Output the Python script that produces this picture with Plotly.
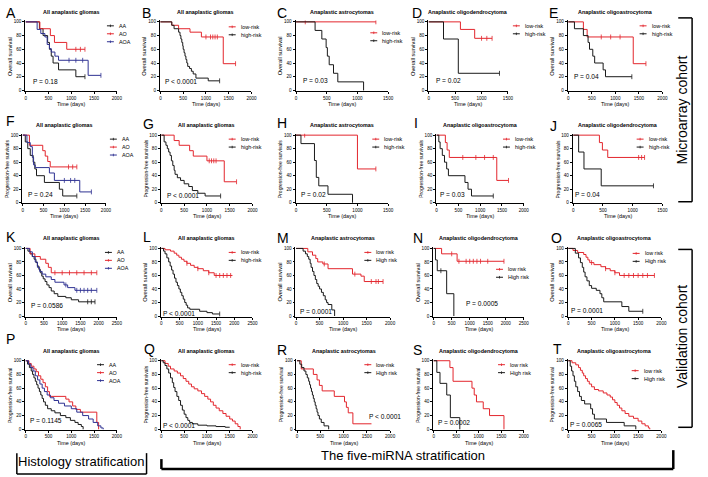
import plotly.graph_objects as go

# ---------------- data: (time in days, survival %) step points ----------------
# Row 1 - microarray cohort, overall survival
A_AA = [(0,100),(300,90),(380,80),(480,70),(520,60),(560,50),(600,40),(720,30),(1100,20),(1300,20)]
A_AO = [(0,100),(310,90),(540,80),(630,70),(900,60),(1300,60)]
A_AOA = [(0,100),(250,89),(330,83),(420,78),(470,67),(520,61),(560,56),(640,50),(720,44),(1370,22),(1650,22)]
B_low = [(0,100),(250,95),(400,90),(650,85),(900,78),(1380,39),(1650,39)]
B_high = [(0,100),(250,95),(300,90),(400,85),(430,80),(450,75),(470,70),(490,65),(500,60),(520,55),(540,50),
          (560,45),(580,40),(600,35),(640,32),(680,28),(720,24),(780,18),(1050,14),(1300,14)]
C_low = [(0,100),(1300,100)]
C_high = [(0,100),(310,87.5),(420,75),(490,62.5),(510,50),(540,37.5),(610,25),(680,12.5),(1100,0)]
D_low = [(0,100),(600,89),(870,76),(1200,76)]
D_high = [(0,100),(280,75),(560,25),(1340,25)]
E_low = [(0,100),(320,89),(400,78),(1380,39),(1650,39)]
E_high = [(0,100),(130,90),(320,80),(420,70),(450,60),(520,50),(560,40),(740,30),(790,20),(1350,20)]
# Row 2 - microarray cohort, progression-free survival
F_AA = [(0,100),(60,90),(120,80),(180,70),(250,60),(290,50),(330,40),(520,30),(880,20),(960,10),(1300,10)]
F_AO = [(0,100),(160,85),(480,77),(540,69),(600,61),(660,53),(1300,53)]
F_AOA = [(0,100),(100,89),(180,83),(230,67),(260,56),(300,52),(640,44),(760,33),(1370,16),(1650,16)]
G_low = [(0,100),(280,92),(390,85),(620,77),(700,69),(1000,62),(1380,31),(1650,31)]
G_high = [(0,100),(60,90),(100,85),(130,80),(160,75),(190,70),(220,62),(250,55),(280,48),(300,42),(350,37),
          (420,33),(500,28),(600,24),(680,18),(800,14),(960,10),(1300,10)]
H_low = [(0,100),(1000,50),(1300,50)]
H_high = [(0,100),(80,87.5),(300,62.5),(330,37.5),(370,25),(520,12.5),(920,0)]
I_low = [(0,100),(200,89),(240,78),(290,67),(1380,33),(1650,33)]
I_high = [(0,100),(50,90),(80,80),(130,70),(180,60),(230,50),(270,40),(650,30),(720,20),(800,10),(1300,10)]
J_low = [(0,100),(440,89),(490,78),(580,67),(1200,67)]
J_high = [(0,100),(90,75),(180,50),(470,25),(1350,25)]
# Row 3 - validation cohort, overall survival
K_AA = [(0,100),(60,96),(120,92),(180,88),(230,84),(280,79),(320,74),(360,69),(400,64),(440,59),(480,55),(530,51),
        (580,46),(640,42),(700,37),(780,33),(880,29),(1100,27),(1250,24),(1450,21),(1900,21)]
K_AO = [(0,100),(120,92),(250,88),(400,84),(550,78),(620,72),(700,64),(1950,64)]
K_AOA = [(0,100),(100,95),(180,88),(260,80),(320,72),(380,66),(450,62),(550,58),(700,54),(800,50),(1050,46),
         (1150,42),(1350,38),(1950,38)]
L_low = [(0,100),(100,98),(250,96),(350,93),(420,90),(480,87),(550,84),(620,81),(700,78),(800,75),(900,72),
         (1000,70),(1150,67),(1300,64),(1450,60),(1950,60)]
L_high = [(0,100),(60,96),(100,92),(150,86),(200,80),(240,74),(280,68),(320,62),(360,56),(400,50),(440,45),
          (480,40),(520,35),(560,30),(600,25),(640,20),(680,16),(720,12),(780,10),(1050,7),(1250,5),(1400,3),(1600,3)]
M_low = [(0,100),(250,95),(350,90),(420,85),(460,80),(570,77),(680,70),(1200,62),(1380,59),(1450,51),(1850,51)]
M_high = [(0,100),(150,96),(200,92),(240,88),(270,84),(300,78),(320,72),(350,66),(380,60),(410,54),(440,48),
          (470,44),(500,40),(540,35),(580,30),(620,24),(650,20),(680,17),(760,9),(820,0)]
N_low = [(0,100),(220,92),(650,81),(1950,81)]
N_high = [(0,100),(50,83),(100,67),(360,33),(560,0)]
O_low = [(0,100),(100,97),(200,94),(330,91),(380,87),(420,83),(460,79),(550,76),(700,73),(800,70),(900,67),
         (1000,64),(1100,60),(1850,60)]
O_high = [(0,100),(150,93),(220,86),(260,79),(300,72),(330,65),(360,58),(400,52),(450,45),(500,41),(600,38),
          (680,33),(720,27),(760,21),(1150,14),(1300,7),(1600,7)]
# Row 4 - validation cohort, progression-free survival
P_AA = [(0,100),(40,95),(80,90),(120,85),(150,80),(180,75),(210,70),(240,65),(270,60),(300,55),(330,50),(360,45),
        (390,40),(430,35),(480,30),(560,27),(640,24),(760,20),(880,17),(980,13),(1080,10),(1150,7),(1220,4),(1260,0)]
P_AO = [(0,100),(70,96),(120,92),(180,88),(230,84),(280,78),(330,73),(380,68),(430,62),(480,55),(520,48),(880,44),
        (950,40),(1030,34),(1100,29),(1200,25),(1560,10),(1600,0)]
P_AOA = [(0,100),(60,95),(110,90),(160,85),(210,78),(260,72),(310,66),(360,60),(410,55),(470,50),(540,46),(620,42),
         (720,38),(850,34),(1000,30),(1120,25),(1250,20),(1380,15),(1480,10),(1580,5),(1650,2),(1700,0)]
Q_low = [(0,100),(80,96),(150,92),(200,88),(280,85),(350,82),(420,78),(480,74),(540,70),(600,66),(660,62),(720,59),
         (800,56),(880,52),(950,48),(1020,44),(1080,40),(1140,35),(1200,31),(1270,27),(1350,23),(1420,19),(1500,15),
         (1560,12),(1620,8),(1680,4),(1730,0)]
Q_high = [(0,100),(40,97),(80,93),(120,88),(160,82),(200,75),(240,68),(270,61),(300,55),(340,48),(380,42),(420,35),
          (460,28),(500,22),(540,17),(580,13),(620,10),(680,8),(800,6),(1000,5),(1200,4),(1400,3),(1500,3)]
R_low = [(0,100),(90,88),(350,80),(430,72),(480,64),(540,56),(800,48),(1020,40),(1060,32),(1100,24),(1200,8),(1600,8)]
R_high = [(0,100),(60,95),(100,90),(150,85),(190,80),(220,75),(250,70),(270,65),(290,60),(310,55),(330,50),(350,45),
          (370,40),(390,35),(410,30),(430,25),(450,20),(480,15),(520,10),(580,5),(680,0)]
S_low = [(0,100),(360,90),(430,70),(850,60),(900,50),(950,40),(1100,30),(1240,20),(1560,0)]
S_high = [(0,100),(70,83),(140,67),(290,50),(370,17),(580,0)]
T_low = [(0,100),(80,97),(160,94),(220,90),(260,86),(300,82),(330,78),(370,74),(410,70),(450,66),(500,62),(560,58),
         (650,56),(750,53),(830,50),(900,47),(950,43),(1000,39),(1050,35),(1100,31),(1150,27),(1220,23),(1300,19),
         (1400,16),(1500,12),(1580,8),(1650,5),(1720,2),(1750,0)]
T_high = [(0,100),(40,92),(70,85),(100,78),(130,70),(160,62),(200,55),(240,48),(280,42),(350,37),(480,30),(520,22),
          (560,15),(820,10),(1200,5),(1450,0)]

# censored observation times
A_AA_c = [1300]; A_AO_c = [1100, 1200, 1300]; A_AOA_c = [950, 1100, 1250, 1650]
B_low_c = [1000, 1100, 1150, 1200, 1250, 1650]; B_high_c = [1300]
C_low_c = [150, 1300]; D_low_c = [1000, 1100, 1200]; D_high_c = [1340]
E_low_c = [700, 900, 1100, 1650]; E_high_c = [1350]
F_AA_c = [1300]; F_AO_c = [1100, 1200, 1300]; F_AOA_c = [1000, 1150, 1250, 1650]
G_low_c = [1050, 1100, 1150, 1200, 1650]; G_high_c = [1300]
H_low_c = [140, 1300]; I_low_c = [600, 900, 1100, 1300, 1650]; I_high_c = [1300]
J_low_c = [1100, 1150, 1200]; J_high_c = [1350]
K_AO_c = [800, 1000, 1200, 1400, 1600, 1800, 1950]; K_AOA_c = [1100, 1400, 1500, 1600, 1700, 1800, 1950]
K_AA_c = [1700, 1800, 1900]
L_low_c = [700, 1000, 1300, 1500, 1600, 1700, 1800, 1900]; L_high_c = [1600]
M_low_c = [600, 1250, 1600, 1700, 1750, 1850]
N_low_c = [500, 700, 900, 1000, 1100, 1200, 1300, 1500, 1950]; N_high_c = [200]
O_low_c = [500, 800, 1000, 1200, 1300, 1400, 1500, 1600, 1700, 1850]; O_high_c = [1600]

# ---------------- styling / layout ----------------
W, H = 708, 477
FONT = "Liberation Sans, Arial, sans-serif"
RED = "#e3262d"
BLK = "#1a1a1a"
BLU = "#2e3192"
HIST = ["AA", "AO", "AOA"]
RISK1 = ["low-risk", "high-risk"]
RISK2 = ["low risk", "High risk"]
RISK3 = ["low-risk", "High risk"]
OS = "Overall survival"
PFS1 = "Progression-free survivals"
PFS2 = "Progression-free survival"
T_ALL = "All anaplastic gliomas"
T_AST = "Anaplastic astrocytomas"
T_ODG = "Anaplastic oligodendrocytoma"
T_OAS = "Anaplastic oligoastrocytoma"

def hist(aa, ao, aoa, c=(None, None, None)):
    return [(aa, BLK, c[0]), (ao, RED, c[1]), (aoa, BLU, c[2])]

def risk(lo, hi, c=(None, None)):
    return [(lo, RED, c[0]), (hi, BLK, c[1])]

R1, R2, R3, R4 = (21, 90), (135, 203), (249, 317), (362, 431)
PANELS = [
    ("A", T_ALL, OS, 2000, (25, 117) + R1, hist(A_AA, A_AO, A_AOA, (A_AA_c, A_AO_c, A_AOA_c)), HIST, [BLK, RED, BLU], (107, 25), "P = 0.18", (30, 81), (3, 12)),
    ("B", T_ALL, OS, 2000, (161, 253) + R1, risk(B_low, B_high, (B_low_c, B_high_c)), RISK1, [RED, BLK], (230, 26), "P < 0.0001", (164, 81), (140, 12)),
    ("C", T_AST, OS, 1500, (298, 391) + R1, risk(C_low, C_high, (C_low_c, None)), RISK1, [RED, BLK], (373, 32), "P = 0.03", (303, 80), (277, 12)),
    ("D", T_ODG, OS, 1500, (432, 512) + R1, risk(D_low, D_high, (D_low_c, D_high_c)), RISK1, [RED, BLK], (517, 25), "P = 0.02", (437, 80), (413, 12)),
    ("E", T_OAS, OS, 2000, (573, 668) + R1, risk(E_low, E_high, (E_low_c, E_high_c)), RISK1, [RED, BLK], (645, 25), "P = 0.04", (577, 76), (551, 12)),
    ("F", T_ALL, PFS1, 2000, (22, 106) + R2, hist(F_AA, F_AO, F_AOA, (F_AA_c, F_AO_c, F_AOA_c)), HIST, [BLK, RED, BLU], (110, 139), "P = 0.24", (25, 195), (3, 121)),
    ("G", T_ALL, PFS1, 2000, (162, 254) + R2, risk(G_low, G_high, (G_low_c, G_high_c)), RISK1, [RED, BLK], (230, 139), "P < 0.0001", (166, 196), (141, 124)),
    ("H", T_AST, PFS1, 1500, (298, 391) + R2, risk(H_low, H_high, (H_low_c, None)), RISK1, [RED, BLK], (375, 139), "P = 0.02", (301, 195), (277, 123)),
    ("I", T_OAS, PFS1, 2000, (440, 528) + R2, risk(I_low, I_high, (I_low_c, I_high_c)), RISK1, [RED, BLK], (507, 139), "P = 0.03", (441, 195), (415, 123)),
    ("J", T_ODG, PFS1, 1500, (578, 668) + R2, risk(J_low, J_high, (J_low_c, J_high_c)), RISK1, [RED, BLK], (642, 139), "P = 0.04", (578, 195), (552, 126)),
    ("K", T_ALL, OS, 2500, (25, 117) + R3, hist(K_AA, K_AO, K_AOA, (K_AA_c, K_AO_c, K_AOA_c)), HIST, [BLK, RED, BLU], (105, 253), "P = 0.0586", (28, 306), (3, 237)),
    ("L", T_ALL, OS, 2500, (162, 254) + R3, risk(L_low, L_high, (L_low_c, L_high_c)), RISK1, [RED, BLK], (230, 253), "P < 0.0001", (162, 314), (141, 237)),
    ("M", T_AST, OS, 2000, (298, 393) + R3, risk(M_low, M_high, (M_low_c, None)), RISK2, [RED, BLK], (367, 253), "P = 0.0001", (300, 312), (277, 238)),
    ("N", T_ODG, OS, 2500, (437, 528) + R3, risk(N_low, N_high, (N_low_c, N_high_c)), RISK2, [RED, BLK], (500, 270), "P = 0.0005", (468, 304), (414, 238)),
    ("O", T_OAS, OS, 2000, (573, 667) + R3, risk(O_low, O_high, (O_low_c, O_high_c)), RISK2, [RED, BLK], (638, 254), "P = 0.0001", (574, 311), (553, 238)),
    ("P", T_ALL, PFS2, 2000, (25, 117) + R4, hist(P_AA, P_AO, P_AOA), HIST, [BLK, RED, BLU], (97, 366), "P = 0.1145", (27, 422), (3, 340)),
    ("Q", T_ALL, PFS1, 2000, (162, 254) + R4, risk(Q_low, Q_high), RISK1, [RED, BLK], (230, 366), "P < 0.0001", (162, 427), (142, 350)),
    ("R", T_AST, PFS2, 2000, (299, 393) + R4, risk(R_low, R_high), RISK3, [RED, BLK], (367, 366), "P < 0.0001", (370, 418), (277, 351)),
    ("S", T_ODG, PFS2, 2000, (437, 528) + R4, risk(S_low, S_high), RISK2, [RED, BLK], (502, 366), "P = 0.0002", (439, 424), (414, 351)),
    ("T", T_OAS, PFS2, 2000, (573, 667) + R4, risk(T_low, T_high), RISK2, [RED, BLK], (637, 372), "P = 0.0065", (573, 426), (555, 350)),
]


def px(x):
    return x / W


def py(y):
    return 1 - y / H


def surv_at(curve, t):
    s = curve[0][1]
    for ti, si in curve:
        if ti <= t:
            s = si
    return s


def note(x, y, text, size, xanchor="center", angle=0):
    return dict(x=px(x), y=py(y), text=text, showarrow=False, xanchor=xanchor, yanchor="middle",
                textangle=angle, xref="paper", yref="paper",
                font=dict(size=size, family=FONT, color="black"))


fig = go.Figure()
annots = []
shapes = []

for i, (letter, title, ylab, xmax, (x0, x1, yt, yb), curves, labels, lcols, lpos, ptext, ppos, lett) in enumerate(PANELS):
    n = i + 1
    xa = "x" if n == 1 else f"x{n}"
    ya = "y" if n == 1 else f"y{n}"
    ppx = (x1 - x0) / xmax
    ppy = (yb - yt) / 100.0
    xlo, xhi = -0.006 * xmax, xmax * 1.0
    ylo, yhi = -1.0, 102.0
    dom_x = [px(x0 + xlo * ppx), px(x1)]
    dom_y = [py(yb - ylo * ppy), py(yt - (yhi - 100) * ppy)]
    ticks = list(range(0, xmax + 1, 500))
    axis_common = dict(showline=True, linecolor="black", linewidth=0.9, ticks="outside", ticklen=2,
                       tickwidth=0.8, tickcolor="black", showgrid=False, zeroline=False,
                       tickfont=dict(size=4.6, family=FONT, color="black"), fixedrange=True)
    fig.update_layout(**{
        ("xaxis" if n == 1 else f"xaxis{n}"): dict(domain=dom_x, range=[xlo, xhi], anchor=ya,
                                                   tickvals=ticks, **axis_common),
        ("yaxis" if n == 1 else f"yaxis{n}"): dict(domain=dom_y, range=[ylo, yhi], anchor=xa,
                                                   tickvals=[0, 20, 40, 60, 80, 100], **axis_common),
    })
    for curve, col, cens in curves:
        fig.add_trace(go.Scatter(x=[p[0] for p in curve], y=[p[1] for p in curve], mode="lines",
                                 line=dict(color=col, width=1, shape="hv"), xaxis=xa, yaxis=ya,
                                 showlegend=False, hoverinfo="skip"))
        if cens:
            fig.add_trace(go.Scatter(x=cens, y=[surv_at(curve, t) for t in cens], mode="markers",
                                     marker=dict(symbol="line-ns", size=3.5, line=dict(color=col, width=0.8)),
                                     xaxis=xa, yaxis=ya, showlegend=False, hoverinfo="skip"))
    annots.append(note((x0 + x1) / 2, yt - 10, f"<b>{title}</b>", 5.4))
    annots.append(note(lett[0], lett[1], letter, 14, xanchor="left"))
    annots.append(note((x0 + x1) / 2, yb + 13.5, "Time (days)", 5.4))
    annots.append(note(x0 - 16, (yt + yb) / 2, ylab, 5.7 if ylab == OS else 5.0, angle=-90))
    annots.append(note(ppos[0], ppos[1], ptext, 6.6, xanchor="left"))
    for k, (lab, col) in enumerate(zip(labels, lcols)):
        ly = lpos[1] + k * 8
        shapes.append(dict(type="line", xref="paper", yref="paper", x0=px(lpos[0]), x1=px(lpos[0] + 7),
                           y0=py(ly), y1=py(ly), line=dict(color=col, width=1)))
        shapes.append(dict(type="line", xref="paper", yref="paper", x0=px(lpos[0] + 3.5), x1=px(lpos[0] + 3.5),
                           y0=py(ly - 1.3), y1=py(ly + 1.3), line=dict(color=col, width=0.8)))
        annots.append(note(lpos[0] + 10, ly, lab, 5.4, xanchor="left"))


def seg(xa, ya, xb, yb, w=1.5):
    shapes.append(dict(type="line", xref="paper", yref="paper", x0=px(xa), y0=py(ya), x1=px(xb), y1=py(yb),
                       line=dict(color="black", width=w)))


# cohort brackets on the right
seg(684, 17, 698, 17); seg(698, 17, 698, 202); seg(684, 202, 698, 202)
seg(684, 250, 698, 250); seg(698, 250, 698, 429); seg(684, 429, 698, 429)
annots.append(note(688, 110, "Microarray cohort", 14, angle=-90))
annots.append(note(688, 338, "Validation cohort", 14, angle=-90))

# stratification brackets at the bottom
seg(16, 455, 16, 476); seg(147, 455, 147, 476); seg(16, 476, 147, 476)
annots.append(note(81, 463, "Histology stratification", 13))
seg(162, 461, 162, 471, 2.5); seg(162, 471, 679, 471, 2.5); seg(679, 452, 679, 471, 2.5)
annots.append(note(406, 457, "The five-miRNA stratification", 13))

fig.update_layout(width=W, height=H, margin=dict(l=0, r=0, t=0, b=0), plot_bgcolor="white",
                  paper_bgcolor="white", showlegend=False, annotations=annots, shapes=shapes,
                  font=dict(family=FONT, color="black"))
fig.write_html("out.html", config={"displayModeBar": False},
               post_script="document.body.style.margin='0';document.body.style.overflow='hidden';")
